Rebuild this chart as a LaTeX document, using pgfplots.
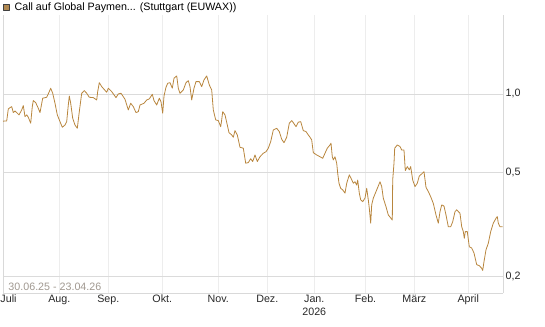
\documentclass[border=0pt]{standalone}
\usepackage{pgfplots}
\pgfplotsset{compat=1.18}
\usepackage{fontspec}
\setmainfont{Liberation Sans}
\definecolor{lineC}{RGB}{184,134,62}
\definecolor{sqC}{RGB}{176,136,80}
\definecolor{dateC}{RGB}{160,152,144}
\definecolor{tickC}{RGB}{40,40,40}
\begin{document}
\begin{tikzpicture}
\useasboundingbox (0,0) rectangle (545bp,-327bp);
\begin{axis}[
  at={(3bp,-293bp)}, anchor=south west,
  scale only axis, width=500bp, height=278bp,
  xmin=3, xmax=503, ymode=log, ymin=0.172, ymax=2.01,
  axis x line*=bottom, axis y line*=right,
  axis line style={-, color=black!15, line width=0.8bp},
  xmajorgrids, ymajorgrids,
  x grid style={color=black!7, line width=0.8bp},
  y grid style={color=black!14, line width=0.8bp},
  major tick length=0pt, minor tick num=0,
  xtick={3,59.3,108.3,162.3,218.3,267.3,314.3,365.5,414.3,468.3},
  xticklabels={\hspace*{11bp}Juli,Aug.,Sep.,Okt.,Nov.,Dez.,Jan.\\2026,Feb.,März,April},
  ytick={0.2,0.5,1}, yticklabels={{0,2},{0,5},{1,0}},
  log basis y=10,
  tick label style={font=\fontsize{10.7bp}{12.5bp}\selectfont, text=tickC},
  xticklabel style={align=center, inner sep=2bp},
  yticklabel style={inner sep=2.5bp},
  clip=false,
  legend style={at={(rel axis cs:0,1)}, anchor=south west, draw=none, fill=none,
    inner sep=0pt, outer sep=0pt, yshift=3bp, column sep=5bp,
    font=\fontsize{10.7bp}{12.5bp}\selectfont, nodes={inner sep=0pt}},
  legend image code/.code={\draw[fill=sqC,draw=black!75,line width=0.6bp] (0bp,-3bp) rectangle (6bp,3bp);},
]
\draw[black!15, line width=0.8bp] (rel axis cs:0,0) -- (rel axis cs:0,1);
\addplot[lineC, line width=0.8bp, line join=round] coordinates {
(3,0.786)(6.7,0.788)(8.3,0.876)(10,0.886)(11.7,0.894)(13.3,0.848)(15,0.860)(16.7,0.848)(19,0.831)(21.7,0.868)(23.3,0.902)(25,0.818)(26.7,0.831)(28.3,0.814)(30.7,0.772)(32.3,0.894)(33.3,0.943)(35.7,0.926)(38.3,0.881)(40,0.848)(42.7,0.963)(46.7,0.971)(49.3,1.021)(50.7,1.052)(52.7,1.006)(55,0.921)(57.3,0.831)(60,0.783)(62.3,0.745)(65,0.760)(66.7,0.783)(68.3,0.907)(69.3,0.982)(70.7,0.921)(72.7,0.807)(75,0.760)(77.3,0.738)(79.3,0.855)(81.7,1.006)(84.3,1.030)(86.7,1.006)(89.3,0.971)(93.3,0.968)(96.7,0.948)(97.7,1.021)(99.3,1.105)(101.7,1.067)(106.7,1.015)(108.3,1.052)(111.7,1.021)(116,0.968)(118.3,1.000)(121,1.006)(125,0.954)(128.3,0.868)(130.7,0.921)(133.3,0.894)(136,0.848)(138.3,0.855)(140,0.907)(144,0.921)(146.7,0.948)(149.3,0.957)(152.3,0.997)(154,0.943)(156.7,0.907)(159.3,0.963)(161,0.934)(162.7,0.843)(164,0.982)(166,1.061)(167.7,1.099)(170,1.105)(172.3,1.052)(174,1.149)(176.7,1.173)(178.3,1.052)(180,1.006)(183.3,1.036)(186,1.105)(188.3,1.125)(190,1.067)(191.7,0.948)(194,1.052)(196,1.115)(199.3,1.115)(201.7,1.067)(204,1.132)(206.7,1.173)(209.3,1.083)(211.7,1.036)(213.3,0.868)(215.7,0.795)(218.3,0.790)(220.7,0.749)(221.7,0.795)(222.7,0.855)(225,0.831)(227.3,0.760)(229,0.710)(231.7,0.696)(233.3,0.682)(235,0.723)(237.3,0.696)(240,0.624)(243.3,0.619)(245.7,0.542)(248.3,0.545)(250.7,0.564)(252.7,0.550)(255,0.583)(257.3,0.550)(260,0.574)(263.3,0.592)(266,0.600)(268.3,0.619)(270.7,0.656)(273.3,0.727)(276.7,0.738)(279.3,0.717)(281.7,0.670)(284,0.650)(286.7,0.682)(289.3,0.772)(291.7,0.790)(293.3,0.776)(296,0.749)(298.3,0.779)(300.7,0.783)(303.3,0.723)(306,0.717)(308.3,0.696)(310,0.682)(311.7,0.666)(313.3,0.595)(316.7,0.583)(320,0.574)(322.7,0.566)(325,0.592)(327.3,0.619)(330,0.637)(331,0.647)(332.3,0.574)(333.3,0.558)(335,0.574)(336.7,0.542)(337.7,0.496)(339,0.454)(340.7,0.434)(342.7,0.428)(345,0.416)(346.7,0.454)(349.3,0.489)(351,0.475)(353.3,0.454)(355,0.460)(356.7,0.447)(357.7,0.467)(359.3,0.416)(360.7,0.392)(362.7,0.386)(365,0.398)(366.7,0.434)(368.3,0.392)(369.3,0.364)(370.7,0.319)(371.7,0.375)(373.3,0.398)(376.7,0.428)(380,0.460)(381.7,0.441)(383.3,0.398)(386,0.369)(388.3,0.343)(391,0.333)(392.3,0.328)(392.7,0.467)(394,0.542)(394.7,0.619)(397.3,0.637)(400,0.628)(401.7,0.609)(404,0.609)(405.3,0.508)(407.3,0.526)(409.3,0.511)(410.7,0.526)(412.7,0.467)(415,0.441)(417.3,0.454)(419.3,0.484)(421.7,0.493)(424,0.503)(426,0.438)(428.3,0.422)(430.7,0.403)(433.3,0.380)(436,0.343)(438.3,0.319)(440,0.353)(441.7,0.375)(444,0.371)(446,0.343)(448.3,0.309)(450.7,0.309)(452.7,0.323)(455,0.353)(456.7,0.359)(460,0.348)(461.7,0.309)(463.3,0.296)(464.3,0.279)(465.3,0.296)(467.3,0.296)(469.3,0.259)(471.7,0.256)(474,0.245)(476.7,0.221)(479.3,0.219)(481.7,0.214)(482.7,0.210)(484,0.227)(486,0.252)(488.3,0.267)(490.7,0.296)(493.3,0.319)(496,0.333)(497.3,0.338)(498.3,0.319)(500,0.309)(502.7,0.309)
};
\addlegendentry{Call auf Global Paymen... (Stuttgart (EUWAX))}
\node[anchor=base west, inner sep=0pt, text=dateC, font=\fontsize{10.7bp}{12.5bp}\selectfont]
  at (rel axis cs:0,0) [xshift=5.3bp, yshift=2.5bp] {30.06.25 - 23.04.26};
\end{axis}
\end{tikzpicture}
\end{document}
